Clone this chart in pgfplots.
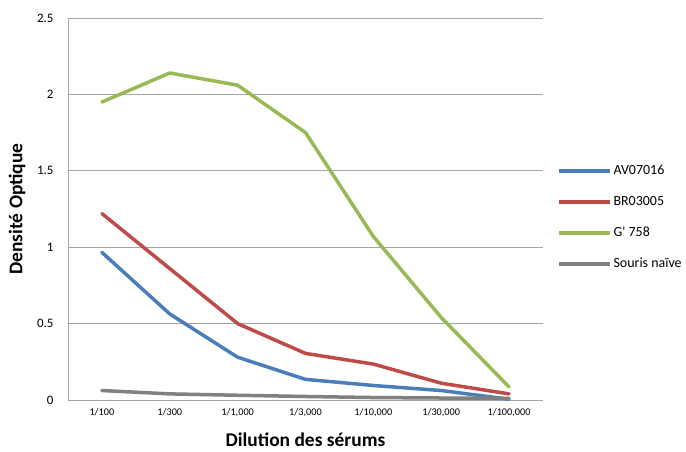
\documentclass[border=0pt]{standalone}
\usepackage{pgfplots}
\pgfplotsset{compat=1.18}
\usepackage{fontspec}
\setmainfont{Carlito}
\definecolor{serA}{RGB}{74,126,187}
\definecolor{serB}{RGB}{190,75,72}
\definecolor{serC}{RGB}{152,185,84}
\definecolor{serD}{RGB}{128,128,128}
\definecolor{gridc}{RGB}{165,165,165}
\begin{document}
\begin{tikzpicture}
\path[use as bounding box] (-68bp,-52bp) rectangle (618bp,400bp);
\begin{axis}[
  scale only axis,
  width=475bp, height=382bp,
  xmin=-0.5, xmax=6.5,
  ymin=0, ymax=2.5,
  clip=false,
  axis lines*=left,
  axis line style={gridc, line width=0.8bp},
  ytick={0,0.5,1,1.5,2,2.5},
  xtick={0,...,6},
  xticklabels={1/100,1/300,{1/1,000},{1/3,000},{1/10,000},{1/30,000},{1/100,000}},
  major tick length=0pt,
  ymajorgrids,
  grid style={gridc, line width=0.8bp},
  /pgf/number format/assume math mode=true,
  yticklabel style={font=\fontsize{13}{15}\selectfont, xshift=-11bp},
  xticklabel style={font=\fontsize{10.3}{12}\selectfont, yshift=-5bp},
  xlabel={\textbf{Dilution des sérums}},
  ylabel={\textbf{Densité Optique}},
  xlabel style={font=\fontsize{19.5}{21}\selectfont, at={(axis description cs:0.5,-0.105)}, anchor=center},
  ylabel style={font=\fontsize{19.5}{21}\selectfont, at={(axis description cs:-0.107,0.5)}, anchor=center},
  legend style={at={(1.024,0.478)}, anchor=west, draw=none, fill=none,
    font=\fontsize{14}{16}\selectfont,
    nodes={inner sep=0pt, text height=10.5bp, text depth=3bp, anchor=west},
    row sep=17.5bp, column sep=1.5bp},
  legend cell align=left,
  legend image code/.code={\draw[#1, line width=3.5bp, line cap=butt] (0bp,0bp) -- (51bp,0bp);},
  every axis plot/.append style={line width=3.5bp, line join=round, line cap=round},
]
\addplot[serA] coordinates {(0,0.966) (1,0.563) (2,0.28) (3,0.135) (4,0.095) (5,0.062) (6,0.005)};
\addlegendentry{AV07016}
\addplot[serB] coordinates {(0,1.22) (1,0.86) (2,0.50) (3,0.305) (4,0.235) (5,0.11) (6,0.04)};
\addlegendentry{BR03005}
\addplot[serC] coordinates {(0,1.95) (1,2.14) (2,2.06) (3,1.75) (4,1.07) (5,0.54) (6,0.085)};
\addlegendentry{G\textquotesingle\ 758}
\addplot[serD] coordinates {(0,0.062) (1,0.04) (2,0.031) (3,0.023) (4,0.016) (5,0.013) (6,0.011)};
\addlegendentry{Souris naïve}
\end{axis}
\end{tikzpicture}
\end{document}
